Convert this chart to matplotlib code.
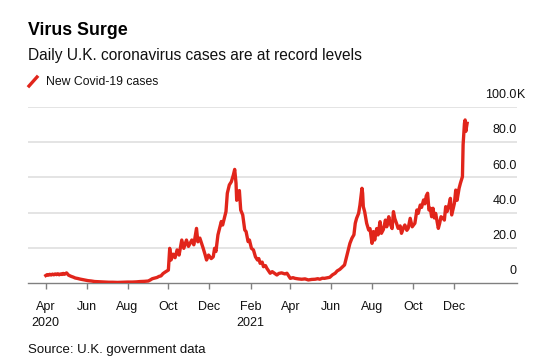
import matplotlib
matplotlib.use('Agg')
import matplotlib.pyplot as plt
import matplotlib.transforms as mtransforms
from matplotlib.lines import Line2D
import pandas as pd

plt.rcParams['font.family'] = ['Liberation Sans', 'DejaVu Sans']

# 每日新增病例 (千例)
dates = [
    '2020-04-01', '2020-04-03', '2020-04-05', '2020-04-07', '2020-04-09', '2020-04-11',
    '2020-04-13', '2020-04-15', '2020-04-17', '2020-04-19', '2020-04-21', '2020-04-23',
    '2020-04-25', '2020-04-27', '2020-04-29', '2020-05-02', '2020-05-05', '2020-05-09',
    '2020-05-12', '2020-05-15', '2020-05-19', '2020-05-22', '2020-05-26', '2020-05-29',
    '2020-06-03', '2020-06-08', '2020-06-13', '2020-06-18', '2020-06-23', '2020-06-28',
    '2020-07-04', '2020-07-10', '2020-07-17', '2020-07-25', '2020-08-01', '2020-08-08',
    '2020-08-14', '2020-08-20', '2020-08-26', '2020-09-01', '2020-09-04', '2020-09-07',
    '2020-09-11', '2020-09-14', '2020-09-17', '2020-09-20', '2020-09-23', '2020-09-26',
    '2020-09-29', '2020-10-01', '2020-10-03', '2020-10-05', '2020-10-08', '2020-10-11',
    '2020-10-14', '2020-10-17', '2020-10-21', '2020-10-24', '2020-10-28', '2020-10-31',
    '2020-11-05', '2020-11-08', '2020-11-12', '2020-11-14', '2020-11-17', '2020-11-22',
    '2020-11-25', '2020-11-27', '2020-11-30', '2020-12-04', '2020-12-07', '2020-12-09',
    '2020-12-11', '2020-12-14', '2020-12-17', '2020-12-19', '2020-12-21', '2020-12-26',
    '2020-12-28', '2020-12-31', '2021-01-03', '2021-01-06', '2021-01-08', '2021-01-10',
    '2021-01-11', '2021-01-13', '2021-01-15', '2021-01-17', '2021-01-20', '2021-01-21',
    '2021-01-23', '2021-01-25', '2021-01-28', '2021-01-30', '2021-02-02', '2021-02-05',
    '2021-02-08', '2021-02-11', '2021-02-13', '2021-02-15', '2021-02-18', '2021-02-20',
    '2021-02-23', '2021-02-25', '2021-03-02', '2021-03-05', '2021-03-08', '2021-03-12',
    '2021-03-15', '2021-03-19', '2021-03-24', '2021-03-27', '2021-04-01', '2021-04-05',
    '2021-04-08', '2021-04-13', '2021-04-18', '2021-04-23', '2021-04-28', '2021-05-03',
    '2021-05-08', '2021-05-12', '2021-05-15', '2021-05-19', '2021-05-22', '2021-05-26',
    '2021-05-30', '2021-06-03', '2021-06-07', '2021-06-10', '2021-06-14', '2021-06-17',
    '2021-06-21', '2021-06-24', '2021-06-26', '2021-06-29', '2021-07-02', '2021-07-05',
    '2021-07-07', '2021-07-09', '2021-07-12', '2021-07-14', '2021-07-17', '2021-07-18',
    '2021-07-19', '2021-07-21', '2021-07-24', '2021-07-27', '2021-07-29', '2021-08-01',
    '2021-08-03', '2021-08-05', '2021-08-08', '2021-08-10', '2021-08-13', '2021-08-15',
    '2021-08-18', '2021-08-21', '2021-08-23', '2021-08-26', '2021-08-28', '2021-08-31',
    '2021-09-02', '2021-09-04', '2021-09-07', '2021-09-09', '2021-09-12', '2021-09-14',
    '2021-09-17', '2021-09-19', '2021-09-22', '2021-09-24', '2021-09-27', '2021-09-30',
    '2021-10-04', '2021-10-07', '2021-10-09', '2021-10-12', '2021-10-14', '2021-10-17',
    '2021-10-19', '2021-10-21', '2021-10-23', '2021-10-25', '2021-10-27', '2021-10-29',
    '2021-10-31', '2021-11-02', '2021-11-04', '2021-11-08', '2021-11-10', '2021-11-12',
    '2021-11-15', '2021-11-17', '2021-11-19', '2021-11-21', '2021-11-24', '2021-11-26',
    '2021-11-28', '2021-12-02', '2021-12-04', '2021-12-06', '2021-12-09', '2021-12-11',
    '2021-12-14', '2021-12-15', '2021-12-17', '2021-12-18', '2021-12-19', '2021-12-21',
]
cases = [
    4.4, 4.9, 4.6, 5.1, 4.7, 5.2,
    4.8, 5.3, 4.9, 5.4, 4.8, 5.3,
    5.0, 5.6, 5.1, 5.9, 4.6, 3.9,
    3.5, 3.0, 2.7, 2.4, 2.1, 1.9,
    1.5, 1.3, 1.0, 0.9, 0.8, 0.7,
    0.6, 0.6, 0.5, 0.6, 0.7, 0.7,
    0.8, 1.0, 1.1, 1.3, 1.9, 2.6,
    3.0, 3.3, 3.9, 4.2, 5.5, 6.3,
    7.0, 7.5, 19.8, 13.2, 16.5, 14.5,
    18.9, 16.0, 24.5, 19.8, 24.5, 20.9,
    24.5, 21.8, 31.1, 23.5, 25.6, 19.8,
    16.0, 13.2, 16.0, 14.0, 15.0, 19.8,
    18.0, 27.4, 32.0, 35.0, 33.0, 40.6,
    51.0, 55.7, 57.5, 61.3, 64.5, 56.7,
    47.0, 51.7, 52.5, 41.5, 38.7, 35.8,
    30.2, 29.3, 23.6, 24.5, 19.8, 18.9,
    15.0, 13.2, 14.0, 11.3, 12.0, 9.4,
    10.0, 8.5, 5.7, 6.6, 5.8, 4.7,
    5.6, 5.9, 5.3, 5.7, 2.8, 3.2,
    2.8, 2.5, 2.3, 2.5, 1.9, 2.2,
    2.3, 2.6, 2.3, 2.9, 2.8, 3.1,
    3.4, 4.8, 5.7, 7.0, 7.9, 9.0,
    10.4, 15.0, 17.9, 22.6, 25.5, 27.5,
    34.0, 36.8, 39.6, 44.3, 53.8, 51.0,
    43.4, 40.6, 34.0, 30.2, 31.0, 22.6,
    29.3, 24.5, 31.0, 27.4, 34.9, 28.3,
    30.5, 35.8, 32.0, 37.7, 34.0, 31.0,
    40.6, 36.7, 33.5, 31.1, 32.5, 28.3,
    31.5, 33.0, 30.0, 31.1, 36.8, 32.0,
    34.0, 41.5, 39.6, 44.3, 43.0, 47.2,
    45.0, 49.5, 51.0, 41.5, 42.5, 37.7,
    42.5, 37.0, 39.6, 31.1, 34.0, 37.7,
    36.8, 35.8, 43.4, 40.6, 44.5, 48.1,
    38.7, 45.3, 52.8, 47.0, 53.8, 56.7,
    60.4, 78.5, 90.6, 92.5, 86.0, 90.6,
]

tick_dates = ['2020-04-01', '2020-06-01', '2020-08-01', '2020-10-01', '2020-12-01', '2021-02-01',
              '2021-04-01', '2021-06-01', '2021-08-01', '2021-10-01', '2021-12-01']
tick_labels = ['Apr\n2020', 'Jun', 'Aug', 'Oct', 'Dec', 'Feb\n2021', 'Apr', 'Jun', 'Aug', 'Oct', 'Dec']
y_ticks = [0, 20, 40, 60, 80, 100]
y_labels = ['0', '20.0', '40.0', '60.0', '80.0', '100.0']

red = '#e1251b'
grid_c = '#e2e2e2'
axis_c = '#808080'

fig = plt.figure(figsize=(5.46, 3.64), dpi=100)
W, H = 546, 364
ax = fig.add_axes([27.7 / W, 1 - 283.3 / H, (516.7 - 27.7) / W, (283.3 - 106.7) / H])

x = pd.to_datetime(dates)
ax.plot(x, cases, color=red, linewidth=2.4, solid_joinstyle='round', zorder=3)

ax.set_xlim(pd.Timestamp('2020-03-05'), pd.Timestamp('2022-03-05'))
ax.set_ylim(0, 100)

for s in ['top', 'left', 'right']:
    ax.spines[s].set_visible(False)
ax.spines['bottom'].set_color(axis_c)
ax.spines['bottom'].set_linewidth(1.0)

ax.set_yticks(y_ticks[1:])
ax.yaxis.grid(True, color=grid_c, linewidth=1.3)
ax.set_axisbelow(True)
ax.tick_params(axis='y', length=0, labelleft=False)

ax.set_xticks(pd.to_datetime(tick_dates))
ax.set_xticklabels(tick_labels, fontsize=9, linespacing=1.45, va='top')
ax.tick_params(axis='x', length=4, width=1, color=axis_c, pad=8.5, labelcolor='#111111')

# y轴刻度标签在网格线上方
trans = mtransforms.offset_copy(ax.get_yaxis_transform(), fig=fig, x=0, y=8.5, units='points')
for yv, lab in zip(y_ticks, y_labels):
    ax.text(1.0, yv, lab, transform=trans, ha='right', va='center', fontsize=9, color='#111111')
ax.text(1.0, 100, 'K', transform=trans, ha='left', va='center', fontsize=9, color='#111111')

# 标题
fig.text(27.5 / W, 1 - 35 / H, 'Virus Surge', fontsize=12.8, fontweight='bold', ha='left', va='baseline')
fig.text(27.5 / W, 1 - 60 / H, 'Daily U.K. coronavirus cases are at record levels', fontsize=11.2,
         ha='left', va='baseline', color='#111111')
# 图例
fig.add_artist(Line2D([29 / W, 37 / W], [1 - 86 / H, 1 - 77 / H], color=red, linewidth=2.4,
                      transform=fig.transFigure))
fig.text(46 / W, 1 - 85 / H, 'New Covid-19 cases', fontsize=8.8, ha='left', va='baseline', color='#111111')
fig.text(27.5 / W, 1 - 353 / H, 'Source: U.K. government data', fontsize=9.5, ha='left', va='baseline',
         color='#111111')

fig.savefig('out.png', dpi=100)
